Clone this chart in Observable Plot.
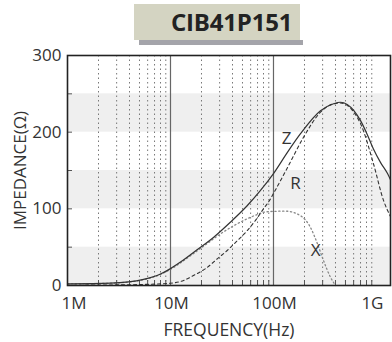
<!DOCTYPE html>
<html><head><meta charset="utf-8">
<script src="https://cdn.jsdelivr.net/npm/d3@7"></script>
<script src="https://cdn.jsdelivr.net/npm/@observablehq/plot@0.6"></script>
<style>
body{margin:0;background:#fff;}
#wrap{position:relative;width:392px;height:342px;font-family:"Open Sans",sans-serif;}
#shadow{position:absolute;left:139px;top:40px;width:164px;height:5px;background:#a4a4aa;}
#title{position:absolute;left:134px;top:4px;width:166px;height:36px;background:#d4d4c2;box-sizing:border-box;padding-left:37px;
  font-weight:700;font-size:24px;color:#222;text-align:left;line-height:36px;letter-spacing:-0.2px;white-space:nowrap;}
#chart{position:absolute;left:0;top:0;}
</style></head><body>
<div id="wrap"><div id="chart"></div><div id="shadow"></div><div id="title">CIB41P151</div></div>
<script>
const titleText = "CIB41P151";
const freqZ = [1e6,2.62e6,5.47e6,8e6,10e6,12.5e6,18.1e6,26.3e6,38.1e6,55.5e6,74.8e6,100e6,137e6,183e6,286e6,383e6,447e6,520e6,603e6,700e6,813e6,934e6,1.1e9,1.28e9,1.368e9];
const zVals = [2,3,8,15,22,30.5,46.5,63,82.5,104,124,146,174,198,228,237,239,236,228,215,197,178,160,146,138];
const freqR = [1e6,3e6,5e6,10e6,13.4e6,16.7e6,21.9e6,28.6e6,35.7e6,42.7e6,55.9e6,66.9e6,80e6,93.5e6,100e6,137e6,195e6,286e6,383e6,447e6,700e6,934e6,1.17e9,1.368e9];
const rVals = [0.3,0.8,1.2,3,6.5,13,22,35,46,56,72,85,100,113,120,154,193,226,237,238,211,159,111,90];
const freqX = [1e6,2.62e6,5.47e6,8e6,10e6,12.5e6,18.1e6,23.4e6,30.6e6,41.2e6,55.5e6,69.5e6,80.9e6,93.5e6,131e6,183e6,228e6,266e6,305e6,357e6,400e6];
const xVals = [2,3,7.5,14.5,21,29.5,45,56,67.4,78,87,92.6,95.6,96.5,97,91,76,55,33,11,0];
const bands = [[0,50],[100,150],[200,250]];
const decades = [1e7,1e8];
const minorFreqs = [2e6,3e6,4e6,5e6,6e6,7e6,8e6,9e6,2e7,3e7,4e7,5e7,6e7,7e7,8e7,9e7,2e8,3e8,4e8,5e8,6e8,7e8,8e8,9e8];
const xTicks = [1e6,1e7,1e8,1e9];
const xTickLabels = ["1M","10M","100M","1G"];
const yTicks = [0,100,200,300];
const yMinorTicks = [0,50,100,150,200,250,300];
const curveNames = ["Z","R","X"];
const curveLabelFreq = [134e6,164e6,256e6];
const curveLabelVal = [192,133,46];
const xAxisLabel = "FREQUENCY(Hz)";
const yAxisLabel = "IMPEDANCE(Ω)";
const yLabelAt = 150;

const series = (f, v) => f.map((d,i)=>({f:d, v:v[i]}));
const labels = curveNames.map((n,i)=>({n, f:curveLabelFreq[i], v:curveLabelVal[i]}));
const xLabelData = xTicks.map((f,i)=>({f, t:xTickLabels[i]}));
const nX = xLabelData.length;
const tickTextStyle = {x:"f", text:"t", frameAnchor:"bottom", lineAnchor:"middle", dy:18, fontSize:17, fill:"#333"};

const chart = Plot.plot({
  width:392, height:342,
  marginTop:55, marginBottom:57, marginLeft:67, marginRight:2,
  style:{fontFamily:"'Open Sans',sans-serif", color:"#333", background:"transparent"},
  x:{type:"log", domain:[1e6,1.368e9]},
  y:{domain:[0,300]},
  marks:[
    Plot.rect(bands, {y1:d=>d[0], y2:d=>d[1], fill:"#efefef"}),
    Plot.ruleX(minorFreqs, {stroke:"#777", strokeWidth:1, strokeDasharray:"1.5,3"}),
    Plot.ruleX(decades, {stroke:"#666", strokeWidth:1.2}),
    Plot.axisX(minorFreqs, {tickSize:-5, text:null, stroke:"#555", label:null}),
    Plot.axisY(yMinorTicks, {tickSize:-5, text:null, stroke:"#555", label:null}),
    Plot.text(xLabelData.slice(0,1), {...tickTextStyle, textAnchor:"start", dx:-6}),
    Plot.text(xLabelData.slice(1,nX-1), {...tickTextStyle, dx:1}),
    Plot.text(xLabelData.slice(nX-1), {...tickTextStyle, textAnchor:"end", dx:7}),
    Plot.axisY(yTicks, {tickSize:0, tickPadding:6, fontSize:17, label:null}),
    Plot.line(series(freqX,xVals), {x:"f", y:"v", stroke:"#888", strokeWidth:1.3, strokeDasharray:"1.3,2.6", curve:"monotone-x"}),
    Plot.line(series(freqR,rVals), {x:"f", y:"v", stroke:"#333", strokeWidth:1.1, strokeDasharray:"3,3", curve:"monotone-x"}),
    Plot.line(series(freqZ,zVals), {x:"f", y:"v", stroke:"#333", strokeWidth:1.2, curve:"monotone-x"}),
    Plot.text(labels, {x:"f", y:"v", text:"n", fontSize:17, fill:"#333"}),
    Plot.frame({stroke:"#222", strokeWidth:1.6}),
    Plot.text([xAxisLabel], {frameAnchor:"bottom", lineAnchor:"middle", dy:44.5, fontSize:17.5, fill:"#333"}),
    Plot.text([yAxisLabel], {y:()=>yLabelAt, frameAnchor:"left", textAnchor:"middle", dx:-47, rotate:-90, fontSize:17, fill:"#333"})
  ]
});
document.getElementById("chart").appendChild(chart);
</script>
</body></html>
